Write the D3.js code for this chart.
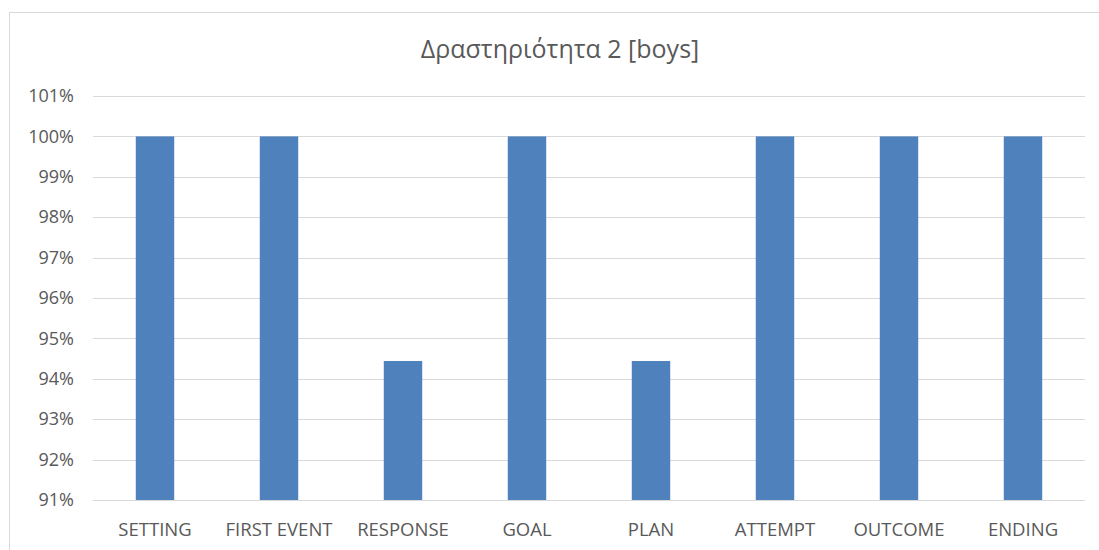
<!DOCTYPE html>
<html>
<head>
<meta charset="utf-8">
<script src="https://cdn.jsdelivr.net/npm/d3@7"></script>
<style>
  html, body { margin: 0; padding: 0; background: #fff; }
  svg { display: block; }
  text { font-family: "Open Sans", "Noto Sans", sans-serif; fill: #595959; }
</style>
</head>
<body>
<svg id="chart" width="1099" height="550"></svg>
<script>
// Story-grammar elements and the share of boys who used each one
const categories = ["SETTING", "FIRST EVENT", "RESPONSE", "GOAL", "PLAN", "ATTEMPT", "OUTCOME", "ENDING"];
const values = [100, 100, 94.44, 100, 94.44, 100, 100, 100];
const yTicks = [91, 92, 93, 94, 95, 96, 97, 98, 99, 100, 101];
const title = "Δραστηριότητα 2 [boys]";

const svg = d3.select("#chart");
const W = 1099, H = 550;
const margin = { left: 93, right: 14, top: 96, bottom: 50 };

// chart frame (runs off the right and bottom edges)
svg.append("rect")
  .attr("x", 9.5).attr("y", 12.5)
  .attr("width", 1200).attr("height", 700)
  .attr("fill", "none").attr("stroke", "#d9d9d9").attr("stroke-width", 1);

const x = d3.scaleBand()
  .domain(categories)
  .range([margin.left, W - margin.right])
  .padding(0);

const y = d3.scaleLinear()
  .domain([91, 101])
  .range([H - margin.bottom, margin.top]);

// gridlines
svg.append("g")
  .selectAll("line")
  .data(yTicks)
  .join("line")
  .attr("x1", margin.left)
  .attr("x2", W - margin.right)
  .attr("y1", d => Math.round(y(d)) + 0.5)
  .attr("y2", d => Math.round(y(d)) + 0.5)
  .attr("stroke", "#d9d9d9")
  .attr("stroke-width", 1);

// y axis labels
const yAxis = d3.axisLeft(y)
  .tickValues(yTicks)
  .tickFormat(d => d + "%")
  .tickSize(0)
  .tickPadding(0);
const gy = svg.append("g")
  .attr("transform", `translate(${margin.left - 19},0)`)
  .call(yAxis);
gy.select(".domain").remove();
gy.selectAll("text")
  .attr("font-size", 18)
  .attr("fill", "#595959")
  .style("font-family", "'Open Sans', sans-serif");

// bars
const barW = x.bandwidth() * 0.31;
svg.append("g")
  .selectAll("rect")
  .data(categories.map((c, i) => ({ c, v: values[i] })))
  .join("rect")
  .attr("x", d => x(d.c) + (x.bandwidth() - barW) / 2)
  .attr("width", barW)
  .attr("y", d => y(d.v))
  .attr("height", d => y(91) - y(d.v))
  .attr("fill", "#4f81bd");

// category labels
const xAxis = d3.axisBottom(x).tickSize(0).tickPadding(0);
const gx = svg.append("g")
  .attr("transform", `translate(0,${H - margin.bottom + 36})`)
  .call(xAxis);
gx.select(".domain").remove();
gx.selectAll("text")
  .attr("dy", 0)
  .attr("font-size", 18.5)
  .attr("fill", "#595959")
  .style("font-family", "'Open Sans', sans-serif");

// title
svg.append("text")
  .attr("x", 560)
  .attr("y", 58)
  .attr("text-anchor", "middle")
  .attr("font-size", 25)
  .text(title);
</script>
</body>
</html>
